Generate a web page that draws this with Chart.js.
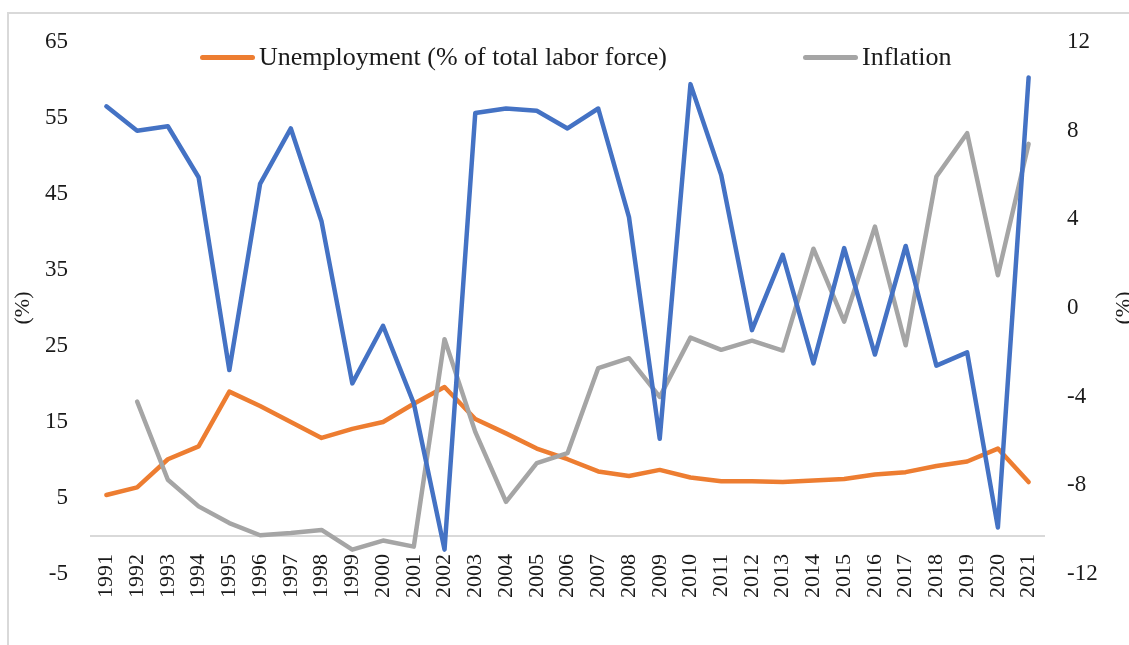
<!DOCTYPE html>
<html>
<head>
<meta charset="utf-8">
<title>Unemployment, inflation and growth</title>
<script src="https://cdn.jsdelivr.net/npm/chart.js@4"></script>
<style>
  html, body { margin: 0; padding: 0; background: #fff; }
  #wrap { position: relative; width: 1129px; height: 645px; overflow: hidden; }
  #frame { position: absolute; left: 7px; top: 12px; width: 1200px; height: 700px;
           border-top: 2px solid #d9d9d9; border-left: 2px solid #d9d9d9; }
  #chart { position: absolute; left: 0; top: 0; }
  #legend { position: absolute; left: 0; top: 0; font-family: 'Liberation Serif', serif;
            font-size: 26px; color: #1a1a1a; }
  .item { position: absolute; top: 42px; display: flex; align-items: center; white-space: nowrap; }
  .swatch { width: 55px; height: 5px; border-radius: 3px; margin-right: 4px; }
</style>
</head>
<body>
<div id="wrap">
  <div id="frame"></div>
  <canvas id="chart" width="1129" height="645"></canvas>
  <div id="legend"></div>
</div>
<script>
// Data
const years = ['1991', '1992', '1993', '1994', '1995', '1996', '1997', '1998', '1999', '2000',
               '2001', '2002', '2003', '2004', '2005', '2006', '2007', '2008', '2009', '2010',
               '2011', '2012', '2013', '2014', '2015', '2016', '2017', '2018', '2019', '2020', '2021'];

// left axis (%)
const unemployment = [5.4, 6.4, 10.1, 11.8, 19.0, 17.1, 15.0, 12.9, 14.1, 15.0,
                      17.4, 19.6, 15.4, 13.5, 11.5, 10.1, 8.5, 7.9, 8.7, 7.7,
                      7.2, 7.2, 7.1, 7.3, 7.5, 8.1, 8.4, 9.2, 9.8, 11.5, 7.1];
const inflation = [null, 17.7, 7.4, 3.9, 1.7, 0.1, 0.4, 0.8, -1.8, -0.6,
                   -1.4, 25.9, 13.7, 4.5, 9.6, 10.9, 22.1, 23.4, 18.3, 26.1,
                   24.5, 25.7, 24.4, 37.8, 28.2, 40.7, 25.1, 47.3, 53.0, 34.3, 51.6];
// right axis (%)
const gdpGrowth = [9.1, 8.0, 8.2, 5.9, -2.8, 5.6, 8.1, 3.9, -3.4, -0.8,
                   -4.3, -10.9, 8.8, 9.0, 8.9, 8.1, 9.0, 4.1, -5.9, 10.1,
                   6.0, -1.0, 2.4, -2.5, 2.7, -2.1, 2.8, -2.6, -2.0, -9.9, 10.4];

const leftTicks = [-5, 5, 15, 25, 35, 45, 55, 65];
const rightTicks = [-12, -8, -4, 0, 4, 8, 12];
const leftTitle = '(%)';
const rightTitle = '(%)';

const FONT = "'Liberation Serif', serif";
const TEXT = '#1a1a1a';

// axis titles, both read bottom-to-top as in the original
const axisTitles = {
    id: 'axisTitles',
    afterDraw(chart) {
        const ctx = chart.ctx;
        const area = chart.chartArea;
        const cy = (area.top + area.bottom) / 2;
        ctx.save();
        ctx.font = '22px ' + FONT;
        ctx.fillStyle = TEXT;
        ctx.textAlign = 'center';
        ctx.textBaseline = 'middle';
        [[23, leftTitle], [1124, rightTitle]].forEach(function(t) {
            ctx.save();
            ctx.translate(t[0], cy);
            ctx.rotate(-Math.PI / 2);
            ctx.fillText(t[1], 0, 0);
            ctx.restore();
        });
        ctx.restore();
    }
};

const chart = new Chart(document.getElementById('chart'), {
    type: 'line',
    data: {
        labels: years,
        datasets: [{
            label: 'Unemployment (% of total labor force)',
            data: unemployment,
            yAxisID: 'y',
            borderColor: '#ED7D31',
            order: 3
        }, {
            label: 'Inflation',
            data: inflation,
            yAxisID: 'y',
            borderColor: '#A5A5A5',
            order: 2
        }, {
            label: 'GDP growth',
            data: gdpGrowth,
            yAxisID: 'y1',
            borderColor: '#4472C4',
            order: 1,
            inLegend: false
        }]
    },
    options: {
        responsive: false,
        animation: false,
        layout: { padding: { left: 0, right: 0, top: 42, bottom: 71 } },
        elements: {
            line: { borderWidth: 4.5, tension: 0, borderJoinStyle: 'round', borderCapStyle: 'round' },
            point: { radius: 0, hoverRadius: 0 }
        },
        plugins: {
            legend: { display: false },
            tooltip: { enabled: false }
        },
        scales: {
            x: {
                type: 'category',
                offset: true,
                position: { y: 0 },
                grid: { display: false, drawTicks: false },
                border: { display: true, color: '#d9d9d9', width: 2 },
                ticks: {
                    autoSkip: false,
                    minRotation: 90,
                    maxRotation: 90,
                    padding: 18,
                    color: TEXT,
                    font: { family: FONT, size: 22 }
                }
            },
            y: {
                position: 'left',
                min: leftTicks[0],
                max: leftTicks[leftTicks.length - 1],
                afterFit: function(s) { s.width = 91; },
                grid: { display: false, drawTicks: false },
                border: { display: false },
                ticks: {
                    stepSize: leftTicks[1] - leftTicks[0],
                    padding: 23,
                    color: TEXT,
                    font: { family: FONT, size: 23 }
                }
            },
            y1: {
                position: 'right',
                min: rightTicks[0],
                max: rightTicks[rightTicks.length - 1],
                afterFit: function(s) { s.width = 85; },
                grid: { display: false, drawTicks: false },
                border: { display: false },
                ticks: {
                    stepSize: rightTicks[1] - rightTicks[0],
                    padding: 23,
                    color: TEXT,
                    font: { family: FONT, size: 23 }
                }
            }
        }
    },
    plugins: [axisTitles]
});

// legend sits inside the plot, like the original
const legendLefts = [200, 803];
const legend = document.getElementById('legend');
chart.data.datasets.filter(function(d) { return d.inLegend !== false; }).forEach(function(d, i) {
    const item = document.createElement('div');
    item.className = 'item';
    item.style.left = legendLefts[i] + 'px';
    const sw = document.createElement('span');
    sw.className = 'swatch';
    sw.style.background = d.borderColor;
    const txt = document.createElement('span');
    txt.textContent = d.label;
    item.appendChild(sw);
    item.appendChild(txt);
    legend.appendChild(item);
});
</script>
</body>
</html>
